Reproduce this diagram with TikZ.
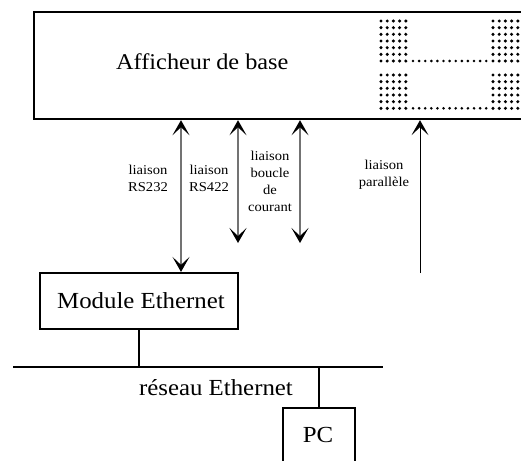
\documentclass[tikz,border=0pt]{standalone}
\usepackage{fontspec}
\setmainfont{Liberation Serif}
\newfontfamily\widefont[FakeStretch=1.08]{Liberation Serif}
\usetikzlibrary{arrows.meta,calc}
\begin{document}
\begin{tikzpicture}[x=1pt,y=-1pt,
  frame/.style={draw=black,line width=2.2pt,inner sep=0pt},
  link/.style={draw=black!55,line width=1.2pt},
  smalltxt/.style={font=\widefont\fontsize{13.5}{17}\selectfont,align=center,inner sep=0pt},
  bigtxt/.style={font=\widefont\fontsize{23}{28}\selectfont,inner sep=0pt},
  dot/.style={fill=black,draw=none}]
\tikzset{tipA/.tip={Stealth[length=15pt,width=17pt,inset=8pt,black]}}
\useasboundingbox (0,0) rectangle (521,460);
\clip (0,0) rectangle (521,460);

% display unit (right edge runs off the sheet)
\node[frame,minimum width=500pt,minimum height=107pt,anchor=north west] (disp) at (33,11) {};
\node[font=\widefont\fontsize{22.5}{26}\selectfont,anchor=base west,inner sep=0pt] (disptxt) at (116,69) {Afficheur de base};

% dot-matrix digit
\foreach \cx in {381,493} {
  \foreach \i in {0,...,4} {
    \foreach \j in {0,...,6}
      \fill[dot] ({\cx+6.2*\i},{21+6.67*\j}) circle (1.7);
    \foreach \j in {0,...,5}
      \fill[dot] ({\cx+6.2*\i},{75+6.67*\j}) circle (1.7);
  }
}
\foreach \k in {0,...,12} {
  \fill[dot] ({413+6.1*\k},61) circle (1.45);
  \fill[dot] ({413+6.1*\k},108.3) circle (1.45);
}

% Ethernet module
\node[frame,minimum width=198pt,minimum height=56pt] (mod) at (139,301) {};
\node[bigtxt] (modtxt) at (141,301) {Module Ethernet};

% link end points
\coordinate (a1) at (181,0);
\coordinate (a2) at (238,0);
\coordinate (a3) at (300,0);
\coordinate (a4) at (420,0);
\coordinate (e2) at (238,243);
\coordinate (e3) at (300,243);
\coordinate (e4) at (420,273);

\draw[link,tipA-tipA] (disp.south -| a1) -- (mod.north -| a1);
\draw[link,tipA-tipA] (disp.south -| a2) -- (e2);
\draw[link,tipA-tipA] (disp.south -| a3) -- (e3);
\draw[draw=black,line width=1pt,-tipA] (e4) -- (disp.south -| a4);

% link labels
\node[smalltxt] (l1) at (148,178) {liaison\\RS232};
\node[smalltxt] (l2) at (209,178) {liaison\\RS422};
\node[smalltxt] (l3) at (270,181) {liaison\\boucle\\de\\courant};
\node[smalltxt] (l4) at (384,175) {liaison\\parallèle};

% Ethernet network
\coordinate (busL) at (13,367);
\coordinate (busR) at (383,367);
\draw[line width=2pt] (busL) -- (busR);
\draw[line width=2pt] (mod.south) -- (mod.south |- busL);
\node[bigtxt,anchor=base] (nettxt) at (216,395) {réseau Ethernet};

% PC
\node[frame,minimum width=72pt,minimum height=80pt,anchor=north] (pc) at (319,407) {};
\draw[line width=2pt] (pc.north) -- (pc.north |- busL);
\node[bigtxt,anchor=base] (pctxt) at (318,442) {PC};
\end{tikzpicture}
\end{document}
